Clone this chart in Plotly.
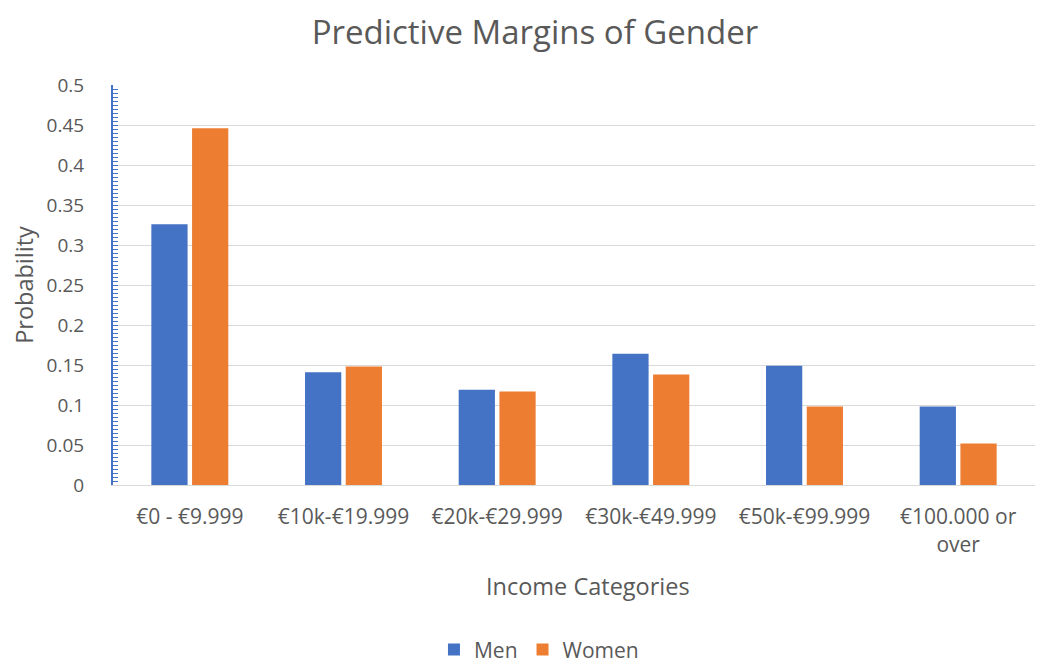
import plotly.graph_objects as go

categories = ["€0 - €9.999", "€10k-€19.999", "€20k-€29.999", "€30k-€49.999", "€50k-€99.999", "€100.000 or<br>over"]
men = [0.326, 0.141, 0.119, 0.164, 0.149, 0.098]
women = [0.446, 0.148, 0.117, 0.138, 0.098, 0.052]
y_ticks = [0, 0.05, 0.1, 0.15, 0.2, 0.25, 0.3, 0.35, 0.4, 0.45, 0.5]
y_tick_labels = ["0", "0.05", "0.1", "0.15", "0.2", "0.25", "0.3", "0.35", "0.4", "0.45", "0.5"]
x_title = "Income Categories"

FONT = "Open Sans"
GRAY = "#595959"

fig = go.Figure()
fig.add_trace(go.Bar(name="Men", x=categories, y=men, marker_color="#4472C4", marker_line_width=0))
fig.add_trace(go.Bar(name="Women", x=categories, y=women, marker_color="#ED7D31", marker_line_width=0))

fig.update_layout(
    width=1054, height=666,
    paper_bgcolor="white", plot_bgcolor="white",
    font=dict(family=FONT, color=GRAY, size=16),
    title=dict(text="Predictive Margins of Gender", x=0.5, xref="container", xanchor="center",
               y=0.964, yref="container", yanchor="middle",
               font=dict(size=33, color=GRAY, family=FONT)),
    margin=dict(l=105, r=27, t=77, b=189, autoexpand=False),
    barmode="group", bargap=0.47, bargroupgap=0.11,
    showlegend=True,
    legend=dict(orientation="h", x=0.462, xanchor="center", y=-0.412, yanchor="middle",
                font=dict(size=21, color=GRAY), traceorder="normal", itemwidth=30),
    xaxis=dict(
        tickfont=dict(size=21, color=GRAY), showgrid=False, showline=True, linecolor="#D9D9D9",
        ticks="", ticklabelstandoff=13, automargin=False,
    ),
    yaxis=dict(
        title=dict(text="Probability", font=dict(size=23.5, color=GRAY), standoff=18),
        range=[0, 0.5], tickvals=y_ticks, ticktext=y_tick_labels,
        tickfont=dict(size=19, color=GRAY),
        showgrid=True, gridcolor="#D9D9D9", gridwidth=1,
        showline=True, linecolor="#4472C4", linewidth=2,
        ticks="inside", ticklen=5, tickcolor="#4472C4", tickwidth=1,
        minor=dict(dtick=0.005, ticks="inside", ticklen=5, tickcolor="#4472C4", tickwidth=1, showgrid=False),
        ticklabelstandoff=23, zeroline=False, automargin=False,
    ),
    annotations=[dict(text=x_title, xref="paper", yref="paper", x=0.515, y=-0.2525,
                      xanchor="center", yanchor="middle", showarrow=False,
                      font=dict(size=23.5, color=GRAY, family=FONT))],
)

fig.write_html("out.html")
